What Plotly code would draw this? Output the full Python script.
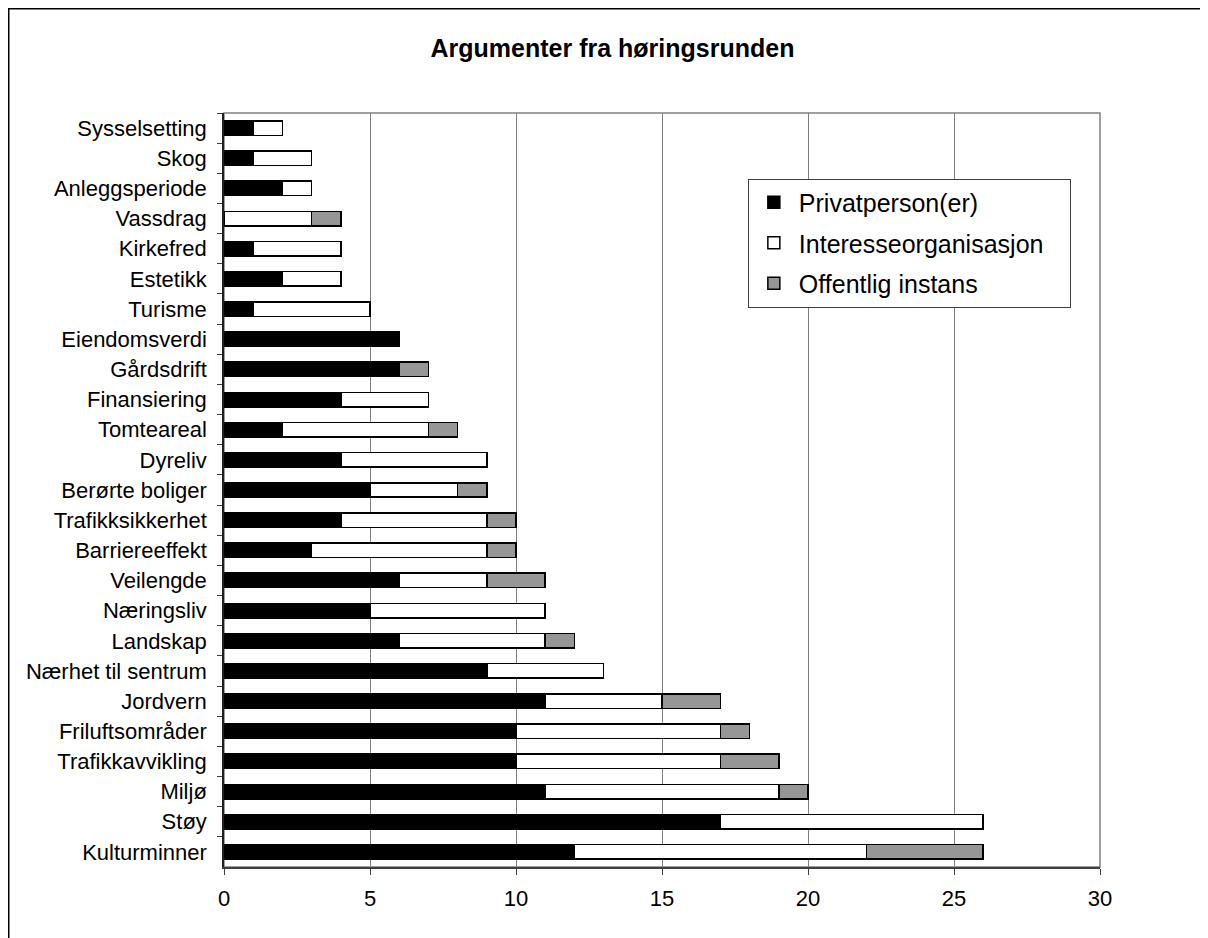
import plotly.graph_objects as go

categories = ["Sysselsetting", "Skog", "Anleggsperiode", "Vassdrag", "Kirkefred", "Estetikk",
              "Turisme", "Eiendomsverdi", "Gårdsdrift", "Finansiering", "Tomteareal", "Dyreliv",
              "Berørte boliger", "Trafikksikkerhet", "Barriereeffekt", "Veilengde", "Næringsliv",
              "Landskap", "Nærhet til sentrum", "Jordvern", "Friluftsområder", "Trafikkavvikling",
              "Miljø", "Støy", "Kulturminner"]
privat = [1, 1, 2, 0, 1, 2, 1, 6, 6, 4, 2, 4, 5, 4, 3, 6, 5, 6, 9, 11, 10, 10, 11, 17, 12]
interesse = [1, 2, 1, 3, 3, 2, 4, 0, 0, 3, 5, 5, 3, 5, 6, 3, 6, 5, 4, 4, 7, 7, 8, 9, 10]
offentlig = [0, 0, 0, 1, 0, 0, 0, 0, 1, 0, 1, 0, 1, 1, 1, 2, 0, 1, 0, 2, 1, 2, 1, 0, 4]
series_names = ["Privatperson(er)", "Interesseorganisasjon", "Offentlig instans"]
series_colors = ["#000000", "#ffffff", "#969696"]
x_ticks = [0, 5, 10, 15, 20, 25, 30]

FONT = "Liberation Sans, Arial, sans-serif"

W, H = 1208, 938
ML, MR, MT, MB = 216, 116, 105, 79
PW, PH = W - ML - MR, H - MT - MB

fig = go.Figure()
for i, (name, vals, col) in enumerate(zip(series_names, [privat, interesse, offentlig], series_colors)):
    fig.add_trace(go.Bar(
        y=categories, x=vals, name=name + "\u00a0" * 3, orientation="h",
        marker=dict(color=col, line=dict(color="#000000", width=1.5)),
        legendgroup="g%d" % i,
    ))

fig.update_layout(
    width=W, height=H,
    margin=dict(l=ML, r=MR, t=MT, b=MB),
    paper_bgcolor="white", plot_bgcolor="white",
    barmode="stack", bargap=0.52,
    font=dict(family=FONT, size=22, color="#000000"),
    title=dict(text="<b>Argumenter fra høringsrunden</b>", x=604.5 / W, xref="container",
               y=1 - 40 / H, yref="container", xanchor="center", yanchor="middle",
               font=dict(family=FONT, size=25, color="#000000")),
    legend=dict(x=0.598, y=0.913, xanchor="left", yanchor="top",
                font=dict(family=FONT, size=25, color="#000000"),
                bordercolor="#404040", borderwidth=1, bgcolor="white",
                traceorder="grouped", tracegroupgap=5,
                itemwidth=40,
                itemclick=False),
    xaxis=dict(range=[0, 30], tickvals=x_ticks, ticks="outside", ticklen=6,
               tickcolor="#404040", showline=True, linecolor="#404040", linewidth=1.5,
               showgrid=True, gridcolor="#808080", gridwidth=1.2, zeroline=False,
               ticklabelstandoff=5, fixedrange=True),
    yaxis=dict(autorange="reversed", ticks="outside", ticklen=5, tickson="boundaries",
               tickcolor="#404040", showline=True, linecolor="#202020", linewidth=1.5,
               showgrid=False, ticklabelstandoff=11, fixedrange=True),
    shapes=[
        dict(type="rect", xref="paper", yref="paper", x0=0, x1=1, y0=0, y1=1,
             line=dict(color="#808080", width=1.5), layer="below"),
        dict(type="rect", xref="paper", yref="paper",
             x0=(0.75 - ML) / PW, x1=(1300 - ML) / PW,
             y0=(MT + PH - 1000) / PH, y1=(MT + PH - 0.75) / PH,
             line=dict(color="#000000", width=1.5), layer="below"),
    ],
)

fig.write_html("out.html")
